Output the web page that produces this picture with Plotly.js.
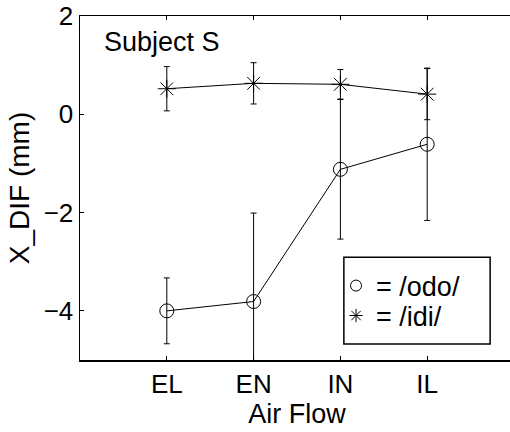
<!DOCTYPE html>
<html>
<head>
<meta charset="utf-8">
<script src="https://cdn.plot.ly/plotly-3.0.1.min.js"></script>
<style>
html, body { margin: 0; padding: 0; overflow: hidden; background: #fff; }
#chart { width: 514px; height: 432px; }
</style>
</head>
<body>
<div id="chart"></div>
<script>
var categories = ['EL', 'EN', 'IN', 'IL'];
var odoValues = [-4.00, -3.81, -1.12, -0.61];
var odoErrors = [0.67, 1.80, 1.42, 1.55];
var idiValues = [0.52, 0.63, 0.61, 0.41];
var idiErrors = [0.45, 0.42, 0.30, 0.52];
var yTickVals = [-4, -2, 0, 2];
var yTickText = ['\u22124', '\u22122', '0', '2'];
var legendLabels = ['= /odo/', '= /idi/'];

var FONT = 'Liberation Sans, Arial, Helvetica, sans-serif';
var TXT = 27;
var TICK = 26;

var traces = [
  {
    x: categories, y: odoValues, type: 'scatter', mode: 'lines+markers',
    line: {color: '#000', width: 1},
    marker: {symbol: 'circle-open', size: 14, color: '#000', line: {width: 1, color: '#000'}},
    error_y: {type: 'data', array: odoErrors, visible: true, color: '#000', thickness: 1, width: 3},
    showlegend: false, hoverinfo: 'skip'
  },
  {
    x: categories, y: idiValues, type: 'scatter', mode: 'lines+markers',
    line: {color: '#000', width: 1},
    marker: {symbol: 'asterisk-open', size: 15, color: '#000', line: {width: 1, color: '#000'}},
    error_y: {type: 'data', array: idiErrors, visible: true, color: '#000', thickness: 1, width: 3},
    showlegend: false, hoverinfo: 'skip'
  },
  {
    x: [null], y: [null], type: 'scatter', mode: 'markers', name: legendLabels[0],
    marker: {symbol: 'circle-open', size: 11, color: '#000', line: {width: 1, color: '#000'}},
    showlegend: true, legend: 'legend'
  },
  {
    x: [null], y: [null], type: 'scatter', mode: 'markers', name: legendLabels[1],
    marker: {symbol: 'asterisk-open', size: 11, color: '#000', line: {width: 1, color: '#000'}},
    showlegend: true, legend: 'legend2'
  }
];

function legendBox(yc) {
  return {
    x: 0.590, y: yc, xanchor: 'left', yanchor: 'middle',
    borderwidth: 0, bgcolor: 'rgba(0,0,0,0)',
    font: {family: FONT, size: TXT, color: '#000'},
    itemclick: false, itemdoubleclick: false
  };
}

var layout = {
  width: 514, height: 432,
  margin: {l: 80, r: 0, t: 16, b: 72, pad: 0},
  paper_bgcolor: '#fff', plot_bgcolor: '#fff',
  font: {family: FONT, size: TXT, color: '#000'},
  showlegend: true,
  legend: legendBox(0.215),
  legend2: legendBox(0.128),
  xaxis: {
    type: 'category', categoryorder: 'array', categoryarray: categories,
    range: [-1, 4],
    showline: true, linecolor: '#000', linewidth: 1.5, mirror: 'ticks',
    ticks: 'inside', ticklen: 4, tickcolor: '#000', tickwidth: 1,
    showgrid: false, zeroline: false,
    tickfont: {family: FONT, size: TICK, color: '#000'},
    title: {text: 'Air Flow', font: {family: FONT, size: TXT, color: '#000'}, standoff: 0},
    automargin: false, fixedrange: true
  },
  yaxis: {
    range: [-5, 2],
    tickvals: yTickVals, ticktext: yTickText,
    showline: true, linecolor: '#000', linewidth: 1.5, mirror: 'ticks',
    ticks: 'inside', ticklen: 4, tickcolor: '#000', tickwidth: 1,
    showgrid: false, zeroline: false,
    tickfont: {family: FONT, size: TICK, color: '#000'},
    title: {text: 'X_DIF (mm)', font: {family: FONT, size: 28, color: '#000'}, standoff: 6},
    automargin: false, fixedrange: true
  },
  shapes: [{
    type: 'rect', xref: 'paper', yref: 'paper',
    x0: 0.608, x1: 0.945, y0: 0.0465, y1: 0.299,
    line: {color: '#000', width: 1.5}, fillcolor: '#fff', layer: 'above'
  }],
  annotations: [{
    text: 'Subject S', xref: 'paper', yref: 'paper', x: 0.050, y: 0.924,
    xanchor: 'left', yanchor: 'middle', showarrow: false,
    font: {family: FONT, size: TXT, color: '#000'}
  }]
};

Plotly.newPlot('chart', traces, layout, {displayModeBar: false, staticPlot: true});
</script>
</body>
</html>
